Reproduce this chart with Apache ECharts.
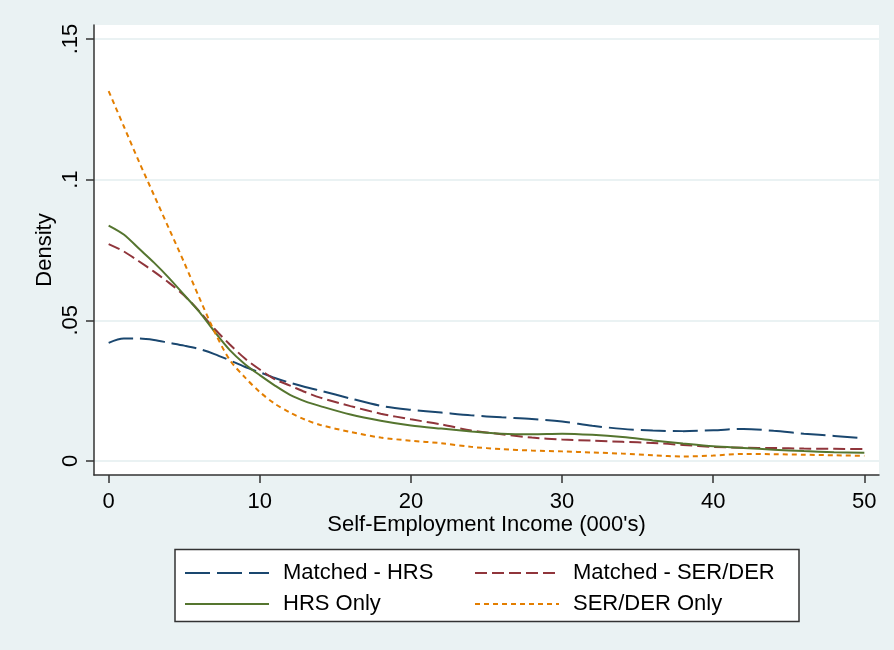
<!DOCTYPE html>
<html>
<head>
<meta charset="utf-8">
<script src="https://cdn.jsdelivr.net/npm/echarts@6/dist/echarts.min.js"></script>
<style>
html,body{margin:0;padding:0;background:#eaf2f3;}
#chart{width:894px;height:650px;}
</style>
</head>
<body>
<div id="chart"></div>
<script>
const income = [0,1,2,3,4,5,6,7,8,9,10,11,12,13,14,16,18,20,22,24,26,28,30,32,34,36,38,40,42,44,46,48,50];
const matchedHRS = [0.042,0.0435,0.0435,0.043,0.042,0.041,0.0398,0.038,0.0358,0.0335,0.0315,0.0295,0.0278,0.0263,0.025,0.0222,0.0196,0.0182,0.0172,0.0162,0.0155,0.0149,0.014,0.0125,0.0114,0.0108,0.0106,0.0109,0.0114,0.0107,0.0097,0.0089,0.008];
const matchedSER = [0.0771,0.0745,0.071,0.0673,0.0633,0.0588,0.0532,0.047,0.0415,0.0365,0.0325,0.029,0.0268,0.0245,0.0225,0.0195,0.0168,0.0148,0.013,0.0108,0.0095,0.0083,0.0076,0.0072,0.0068,0.0064,0.0057,0.005,0.0047,0.0046,0.0044,0.0043,0.0042];
const hrsOnly = [0.0837,0.0805,0.0755,0.0705,0.065,0.059,0.053,0.046,0.0395,0.0345,0.0305,0.0268,0.0235,0.0212,0.0195,0.0165,0.0143,0.0126,0.0115,0.0105,0.0097,0.0095,0.0097,0.0093,0.0085,0.0073,0.0062,0.0052,0.0046,0.004,0.0035,0.0031,0.0029];
const serOnly = [0.1315,0.119,0.1065,0.0945,0.0825,0.0705,0.058,0.046,0.036,0.0298,0.0245,0.0203,0.0172,0.0147,0.0128,0.0103,0.0083,0.0072,0.0063,0.005,0.0042,0.0037,0.0034,0.003,0.0026,0.002,0.0016,0.0019,0.0025,0.0024,0.0022,0.002,0.0018];
const xTicks = [0,10,20,30,40,50];
const yTicks = [0,0.05,0.1,0.15];
const yTickLabels = ['0','.05','.1','.15'];
const seriesNames = ['Matched - HRS','Matched - SER/DER','HRS Only','SER/DER Only'];

const FONT = 'Arial, "Liberation Sans", sans-serif';
function pairs(arr){ return income.map((x,i)=>[x,arr[i]]); }
function mkSeries(name, arr, color, type){
  return {name:name,type:'line',data:pairs(arr),smooth:0.3,showSymbol:false,symbol:'none',
    lineStyle:{color:color,width:2,type:type},itemStyle:{color:color},z:3};
}
const legendCommon = {orient:'vertical',top:557,itemWidth:84,itemHeight:14,itemGap:9,
  itemStyle:{color:'transparent',borderColor:'transparent',borderWidth:0},
  textStyle:{color:'#000',fontSize:22,fontFamily:FONT,lineHeight:22,padding:[0,0,0,9]}};
const chart = echarts.init(document.getElementById('chart'));
chart.setOption({
  backgroundColor:'#eaf2f3',
  animation:false,
  grid:{left:94,right:15,top:25,bottom:175,show:true,backgroundColor:'#ffffff',borderWidth:0},
  xAxis:{type:'value',min:-0.97,max:50.97,
    axisLine:{show:true,onZero:false,lineStyle:{color:'#333',width:1.5}},
    axisTick:{show:true,length:8,customValues:xTicks,lineStyle:{color:'#333',width:1.5}},
    axisLabel:{customValues:xTicks,color:'#000',fontSize:22,fontFamily:FONT,margin:16},
    splitLine:{show:false},
    name:"Self-Employment Income (000's)",nameLocation:'middle',nameGap:39,nameMoveOverlap:false,
    nameTextStyle:{color:'#000',fontSize:22,fontFamily:FONT}
  },
  yAxis:{type:'value',min:-0.005,max:0.155,
    axisLine:{show:true,onZero:false,lineStyle:{color:'#333',width:1.5}},
    axisTick:{show:true,length:8,customValues:yTicks,lineStyle:{color:'#333',width:1.5}},
    axisLabel:{customValues:yTicks,rotate:90,color:'#000',fontSize:22,fontFamily:FONT,margin:12,
      formatter:function(v){const i=yTicks.findIndex(t=>Math.abs(t-v)<1e-9);return i>=0?yTickLabels[i]:'';}},
    splitLine:{show:true,lineStyle:{color:'#eaf2f3',width:2}},
    name:'Density',nameLocation:'middle',nameGap:38,nameMoveOverlap:false,
    nameTextStyle:{color:'#000',fontSize:22,fontFamily:FONT}
  },
  legend:[
    Object.assign({data:[seriesNames[0],seriesNames[2]],left:179},legendCommon),
    Object.assign({data:[seriesNames[1],seriesNames[3]],left:469},legendCommon)
  ],
  graphic:[{type:'rect',shape:{x:175,y:549.5,width:624,height:72},
    style:{fill:'#ffffff',stroke:'#333',lineWidth:1.5},z:-1}],
  series:[
    mkSeries(seriesNames[0],matchedHRS,'#1a476f',[25,7]),
    mkSeries(seriesNames[1],matchedSER,'#90353b',[12,5]),
    mkSeries(seriesNames[2],hrsOnly,'#55752f','solid'),
    mkSeries(seriesNames[3],serOnly,'#e37e00',[5,4])
  ]
});
</script>
</body>
</html>
